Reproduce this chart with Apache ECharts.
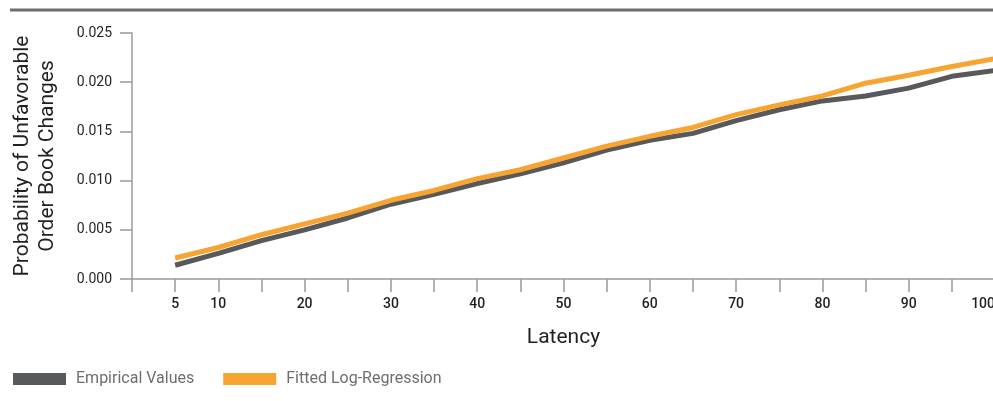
<!DOCTYPE html>
<html>
<head>
<meta charset="utf-8">
<script src="https://cdn.jsdelivr.net/npm/echarts@6/dist/echarts.min.js"></script>
<style>html,body{margin:0;padding:0;background:#fff;}#c{width:993px;height:401px;}</style>
</head>
<body>
<div id="c"></div>
<script>
var latency = [5,10,15,20,25,30,35,40,45,50,55,60,65,70,75,80,85,90,95,100];
var empirical = [0.0014,0.0026,0.0039,0.0050,0.0062,0.0076,0.0086,0.0097,0.0107,0.0118,0.0131,0.0141,0.0148,0.0161,0.0172,0.0181,0.0186,0.0194,0.0206,0.0212];
var fitted = [0.00213,0.0032,0.0045,0.0056,0.0067,0.0080,0.0090,0.0102,0.0111,0.0123,0.0135,0.0145,0.0154,0.0167,0.0177,0.0186,0.0199,0.0207,0.0216,0.0224];
var xLabels = [5,10,20,30,40,50,60,70,80,90,100];
var yLabels = ['0.000','0.005','0.010','0.015','0.020','0.025'];

var font = 'Roboto';
var chart = echarts.init(document.getElementById('c'));
chart.setOption({
  animation: false,
  textStyle: {fontFamily: font},
  graphic: [{type:'line', shape:{x1:10,y1:10,x2:993,y2:10}, style:{stroke:'#6d6e71', lineWidth:3}}],
  grid: {left:132, top:33, right:-2, bottom:122, containLabel:false, outerBoundsMode:'none'},
  legend: {
    left: 13, top: 371, padding: 0, icon: 'rect', itemWidth: 53, itemHeight: 12, itemGap: 29,
    textStyle: {color:'#6d6e71', fontSize:16, fontFamily: font, padding:[0,0,0,5]},
    data: ['Empirical Values','Fitted Log-Regression']
  },
  xAxis: {
    type:'value', min:0, max:100, interval:5,
    name:'Latency', nameLocation:'middle', nameGap:48,
    nameTextStyle:{fontSize:21, color:'#231f20', fontFamily: font},
    axisLine:{lineStyle:{color:'#9b9b9b', width:1.5}},
    axisTick:{show:true, length:13, lineStyle:{color:'#9b9b9b', width:1.5}},
    splitLine:{show:false},
    axisLabel:{margin:18, fontSize:14, color:'#231f20', fontWeight:500, showMaxLabel:true, alignMaxLabel:'right',
      formatter:function(v){return xLabels.indexOf(v)>=0 ? String(v) : '';}}
  },
  yAxis: {
    type:'value', min:0, max:0.025, interval:0.005,
    name:'Probability of Unfavorable\nOrder Book Changes', nameLocation:'middle', nameGap:72,
    nameTextStyle:{fontSize:21, color:'#231f20', lineHeight:25, fontFamily: font},
    axisLine:{show:true, lineStyle:{color:'#9b9b9b', width:1.5}},
    axisTick:{show:true, length:12, lineStyle:{color:'#9b9b9b', width:1.5}},
    splitLine:{show:false},
    axisLabel:{margin:20, fontSize:14, color:'#231f20',
      formatter:function(v){return yLabels[Math.round(v/0.005)];}}
  },
  series: [
    {name:'Empirical Values', type:'line', symbol:'none', color:'#58595b',
     lineStyle:{width:5, color:'#58595b'},
     data: latency.map(function(x,i){return [x, empirical[i]];})},
    {name:'Fitted Log-Regression', type:'line', symbol:'none', color:'#f7a431',
     lineStyle:{width:5, color:'#f7a431'},
     data: latency.map(function(x,i){return [x, fitted[i]];})}
  ]
});
</script>
</body>
</html>
